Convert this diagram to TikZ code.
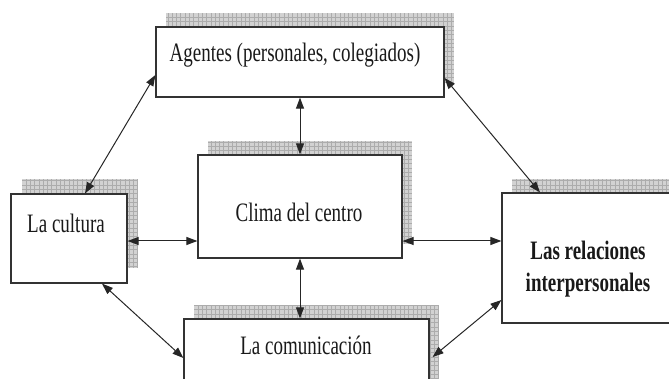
\documentclass[tikz,border=0pt]{standalone}
\usepackage{fontspec}
\setmainfont{Liberation Serif}
\usetikzlibrary{arrows.meta}
\tikzset{
  box/.style={draw=black!80, line width=1.2pt, fill=white, inner sep=0pt},
  lbl/.style={inner sep=0pt, font=\fontsize{19}{23}\selectfont, text=black!90},
  link/.style={draw=black!85, line width=1pt, {Triangle[length=11pt,width=8pt]}-{Triangle[length=11pt,width=8pt]}},
}
\newcommand\gridshadow[4]{%
  \begin{scope}
    \clip (#1,#2) rectangle (#3,#4);
    \fill[gray!35] (#1,#2) rectangle (#3,#4);
    \draw[gray!65, line width=0.35pt, step=4.3pt] (#1,#2) grid (#3,#4);
  \end{scope}}
\begin{document}
\begin{tikzpicture}[x=1pt,y=-1pt]
\useasboundingbox (0,0) rectangle (669,379);
% shadows
\gridshadow{166}{13}{454}{83}
\gridshadow{22}{179}{138}{268}
\gridshadow{208}{141}{412}{244}
\gridshadow{512}{179}{685}{309}
\gridshadow{194}{305}{439}{386}
% boxes
\node[box, minimum width=288pt, minimum height=70pt] (A) at (300,62) {};
\node[box, minimum width=116pt, minimum height=89pt] (C) at (69,238.5) {};
\node[box, minimum width=204pt, minimum height=103pt] (M) at (300,206.5) {};
\node[box, minimum width=173pt, minimum height=130pt] (R) at (588.5,258) {};
\node[box, minimum width=245pt, minimum height=81pt] (K) at (306.5,359.5) {};
% labels
\node[lbl] (tA) at (295,55) {\scalebox{1}[1.4]{Agentes (personales, colegiados)}};
\node[lbl] (tC) at (66,223) {\scalebox{1}[1.4]{La cultura}};
\node[lbl] (tM) at (299,212) {\scalebox{1}[1.4]{Clima del centro}};
\node[lbl] (tR) at (588,269) {\scalebox{1}[1.4]{\bfseries\begin{tabular}{@{}c@{}}Las relaciones\\interpersonales\end{tabular}}};
\node[lbl] (tK) at (306,345) {\scalebox{1}[1.4]{La comunicación}};
% connectors
\draw[link] ([yshift=-13pt]A.west) -- ([xshift=16pt]C.north);
\draw[link] ([yshift=-16pt]A.east) -- ([xshift=-48.5pt]R.north);
\draw[link] (A.south) -- (M.north);
\draw[link] ([yshift=-2.5pt]C.east) -- ([yshift=-34.5pt]M.west);
\draw[link] ([yshift=-34.5pt]M.east) -- ([yshift=17pt]R.west);
\draw[link] (M.south) -- ([xshift=-6.5pt]K.north);
\draw[link] ([xshift=33pt]C.south) -- ([yshift=1.5pt]K.west);
\draw[link] ([yshift=-42pt]R.west) -- ([xshift=3pt,yshift=2.5pt]K.east);
\end{tikzpicture}
\end{document}
